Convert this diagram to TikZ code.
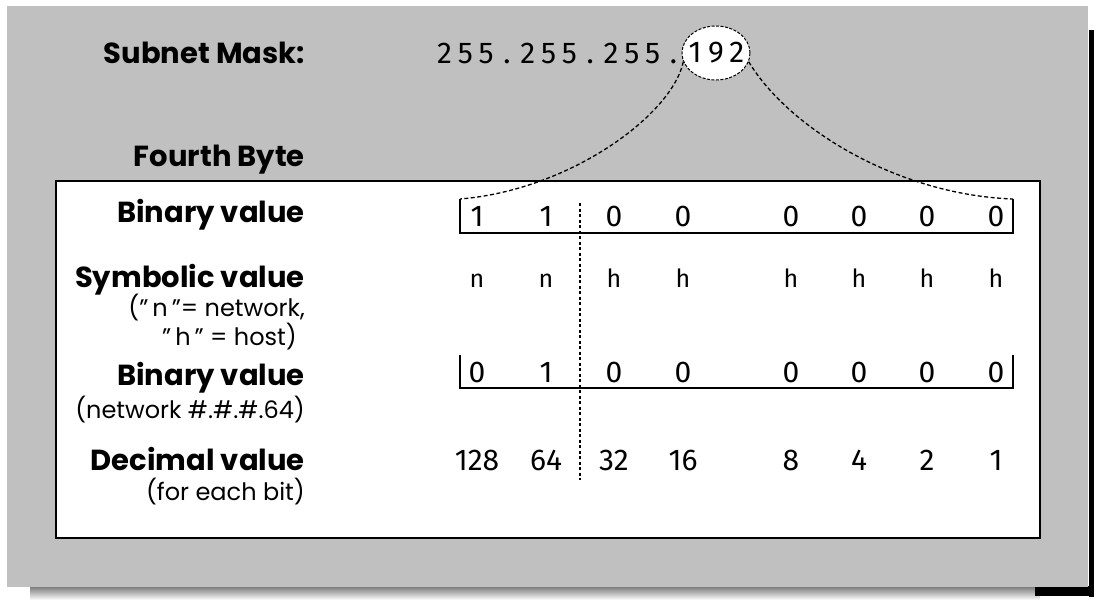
\documentclass[tikz,border=0pt]{standalone}
\usepackage{fontspec}
\setmainfont{Poppins}
\newfontfamily\digitfont{Fira Sans}
\usetikzlibrary{shapes.geometric}
\definecolor{panel}{RGB}{192,192,192}
\definecolor{shade}{RGB}{118,118,118}

% set a string in fixed-width cells
\newcommand\cells[1]{\cellsaux#1\relax}
\def\cellsaux#1{\ifx#1\relax\else\makebox[20.8pt][c]{#1}\expandafter\cellsaux\fi}

\begin{document}
\begin{tikzpicture}[x=1pt,y=-1pt,
  rowlabel/.style={font=\fontsize{29}{32}\selectfont\bfseries, anchor=base east, inner sep=0pt},
  rownote/.style={font=\fontsize{24}{27}\selectfont, anchor=base east, inner sep=0pt},
  bit/.style={font=\digitfont\fontsize{30}{32}\selectfont, anchor=base, inner sep=0pt},
  symb/.style={font=\digitfont\fontsize{25}{28}\selectfont, anchor=base, inner sep=0pt},
  bracket/.style={line width=1.6pt},
  fan/.style={line width=1.3pt, dash pattern=on 4pt off 2.5pt},
  divider/.style={line width=1.2pt, dash pattern=on 3pt off 2.5pt}]
\useasboundingbox (0,0) rectangle (1094,603);

% panel with its drop shadow
\fill[shade] (30,587) rectangle (1040,600);
\fill[black] (1089,30) rectangle (1094,597);
\fill[black] (1035,586) rectangle (1094,596);
\fill[panel] (7,6) rectangle (1088,587);
\draw[line width=2pt, fill=white] (56,181) rectangle (1040,538);

% subnet mask
\node[rowlabel] (mask) at (305,63) {Subnet Mask:};
\node[bit, anchor=base west] (ip) at (434,63) {\cells{255.255.255.}};
\node[draw, ellipse, fill=white, line width=1pt, dash pattern=on 3pt off 1.5pt,
      minimum width=68pt, minimum height=54pt, inner sep=0pt,
      font=\digitfont\fontsize{30}{32}\selectfont] (oct) at (716,53)
      {\makebox[0pt][c]{\cells{192}}};

% row labels
\node[rowlabel] (fourth) at (305,166) {Fourth Byte};
\node[rowlabel] (bin1) at (305,222) {Binary value};
\node[rowlabel] (sym) at (305,287) {Symbolic value};
\node[rownote] (symn) at (305,316) {("\,n\,"= network,};
\node[rownote] (symh) at (297,345) {"\,h\," = host)};
\node[rowlabel] (bin2) at (305,385) {Binary value};
\node[rownote] (bin2n) at (305,418) {(network \#.\#.\#.64)};
\node[rowlabel] (dec) at (305,470) {Decimal value};
\node[rownote] (decn) at (305,500) {(for each bit)};

% brackets around the binary rows
\coordinate (b1l) at (460,199);
\coordinate (b1r) at (1013,199);
\draw[bracket] (b1l) -- (460,233) -- (1013,233) -- (b1r);
\draw[bracket] (460,355) -- (460,388) -- (1013,388) -- (1013,355);

% network / host divider
\coordinate (dtop) at (580,203);
\coordinate (dbot) at (580,480);
\draw[divider] (dtop) -- (dbot);

% the octet fans out onto the eight bits
\draw[fan] (oct.195) .. controls (672,115) and (570,190) .. (b1l);
\draw[fan] (oct.-15) .. controls (790,130) and (900,195) .. (b1r);

% bit columns
\foreach \x/\a/\s/\b/\d [count=\i] in
  {477/1/n/0/128, 546/1/n/1/64, 614/0/h/0/32, 683/0/h/0/16,
   791/0/h/0/8, 859/0/h/0/4, 927/0/h/0/2, 996/0/h/0/1} {
  \node[bit]  (a\i) at (\x,226) {\a};
  \node[symb] (s\i) at (\x,287) {\s};
  \node[bit]  (b\i) at (\x,382) {\b};
  \node[bit]  (d\i) at (\x,470) {\cells{\d}};
}
\end{tikzpicture}
\end{document}
